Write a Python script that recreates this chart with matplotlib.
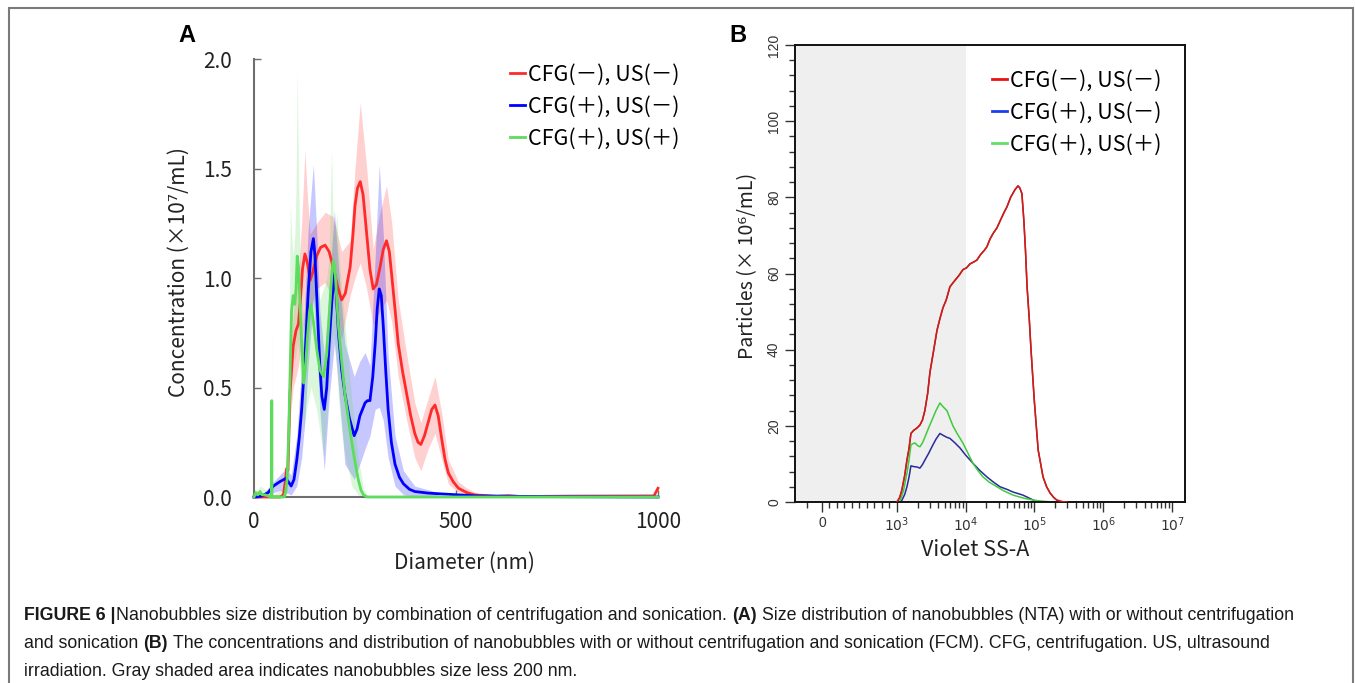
import matplotlib
matplotlib.use("Agg")
import matplotlib.pyplot as plt
from matplotlib.patches import Rectangle
from matplotlib.lines import Line2D
from matplotlib.ticker import FixedLocator, NullFormatter

W, H = 1355, 683
CJK = ['Noto Sans CJK JP', 'DejaVu Sans']

labels = ['CFG(－), US(－)', 'CFG(＋), US(－)', 'CFG(＋), US(＋)']

# ---- panel A: NTA size distribution (x10^7 / mL) ----
red_x = [0, 65, 73, 78, 81, 84, 89, 97, 104, 110, 115, 120, 126, 132, 139, 146, 155, 165, 176, 186,
         196, 207, 217, 226, 238, 245, 250, 256, 263, 270, 279, 287, 295, 303, 312, 320, 328, 335, 341, 350,
         357, 368, 378, 388, 398, 406, 413, 422, 431, 440, 448, 456, 465, 473, 481, 493, 506, 527, 545, 560,
         600, 630, 660, 780, 990, 1000]
red_y = [0, 0, 0.01, 0.08, 0.13, 0.12, 0.47, 0.69, 0.76, 0.79, 0.90, 1.04, 1.11, 1.07, 0.99, 1.03, 1.10, 1.14, 1.15, 1.12,
         1.05, 0.96, 0.90, 0.93, 1.05, 1.20, 1.33, 1.41, 1.44, 1.38, 1.20, 1.04, 0.95, 0.97, 1.05, 1.13, 1.17, 1.12, 1.01, 0.84,
         0.70, 0.57, 0.47, 0.37, 0.29, 0.25, 0.24, 0.28, 0.34, 0.40, 0.42, 0.37, 0.26, 0.17, 0.11, 0.07, 0.04, 0.02, 0.01, 0.008,
         0.003, 0.006, 0.002, 0.004, 0.005, 0.04]
red_bx = [73, 81, 89, 97, 104, 110, 118, 126, 133, 139, 155, 176, 196, 217, 238, 250, 263, 279, 295, 312,
          328, 341, 357, 378, 398, 413, 431, 448, 465, 481, 506, 527, 560, 600]
red_lo = [0, 0.10, 0.35, 0.50, 0.55, 0.60, 0.72, 0.80, 0.82, 0.85, 0.95, 0.98, 0.90, 0.72, 0.92, 1.00, 1.07, 0.95, 0.78, 0.85,
          0.90, 0.80, 0.55, 0.35, 0.18, 0.12, 0.22, 0.29, 0.17, 0.06, 0.02, 0.01, 0.003, 0]
red_hi = [0.02, 0.16, 0.60, 0.85, 0.95, 1.00, 1.25, 1.58, 1.35, 1.20, 1.25, 1.30, 1.28, 1.12, 1.17, 1.50, 1.80, 1.50, 1.13, 1.30,
          1.42, 1.25, 0.90, 0.65, 0.43, 0.34, 0.45, 0.55, 0.38, 0.17, 0.07, 0.04, 0.01, 0.005]

blue_x = [0, 5, 20, 35, 48, 64, 79, 85, 92, 99, 106, 112, 118, 126, 134, 141, 147, 151, 155, 163,
          168, 174, 180, 186, 193, 199, 204, 209, 217, 225, 236, 248, 255, 262, 275, 281, 287, 294, 300, 305,
          310, 315, 320, 326, 332, 340, 349, 360, 370, 385, 398, 430, 456, 550, 700, 1000]
blue_y = [0, 0, 0.005, 0.02, 0.05, 0.07, 0.085, 0.07, 0.05, 0.08, 0.17, 0.27, 0.40, 0.63, 0.93, 1.12, 1.18, 1.10, 0.93, 0.60,
          0.46, 0.40, 0.50, 0.70, 0.90, 1.02, 0.92, 0.75, 0.58, 0.47, 0.36, 0.28, 0.31, 0.37, 0.43, 0.44, 0.44, 0.55, 0.70, 0.86,
          0.95, 0.92, 0.78, 0.58, 0.40, 0.25, 0.15, 0.09, 0.06, 0.035, 0.025, 0.018, 0.015, 0.005, 0.002, 0]
blue_bx = [20, 48, 64, 79, 92, 106, 118, 126, 134, 147, 155, 163, 174, 186, 199, 209, 225, 248, 262, 275,
           287, 300, 310, 320, 332, 349, 370, 398, 456]
blue_lo = [0, 0.02, 0.03, 0.02, 0.01, 0.05, 0.18, 0.35, 0.60, 0.90, 0.70, 0.40, 0.12, 0.45, 0.70, 0.50, 0.15, 0.08, 0.15, 0.22,
           0.28, 0.40, 0.41, 0.35, 0.18, 0.05, 0.01, 0, 0]
blue_hi = [0.01, 0.07, 0.10, 0.13, 0.10, 0.28, 0.60, 0.90, 1.22, 1.52, 1.22, 0.85, 0.65, 0.95, 1.31, 1.05, 0.70, 0.55, 0.62, 0.66,
           0.60, 1.10, 1.52, 1.20, 0.65, 0.28, 0.12, 0.05, 0.02]

green_x = [0, 5, 10, 15, 20, 27, 35, 40, 43.5, 44, 44.5, 48, 60, 75, 78, 82, 86, 90, 93, 97,
           101, 104, 107, 110, 113, 118, 123, 127, 132, 137, 141, 147, 155, 163, 172, 180, 186, 192, 196, 200,
           205, 209, 217, 225, 234, 242, 250, 258, 265, 271, 280, 1000]
green_y = [0, 0.02, 0.01, 0.025, 0.01, 0.01, 0.005, 0, 0, 0.44, 0, 0, 0, 0, 0.02, 0.08, 0.30, 0.62, 0.85, 0.92,
           0.88, 0.95, 1.10, 1.05, 0.92, 0.70, 0.52, 0.58, 0.72, 0.84, 0.88, 0.80, 0.68, 0.58, 0.55, 0.65, 0.82, 1.00, 1.08, 1.05,
           0.90, 0.78, 0.62, 0.47, 0.35, 0.25, 0.16, 0.08, 0.03, 0.01, 0, 0]
green_bx = [0, 15, 40, 43.5, 44, 44.5, 48, 78, 82, 86, 90, 93, 97, 101, 104, 107, 110, 113, 118, 123,
            130, 141, 155, 163, 172, 180, 186, 192, 196, 200, 205, 209, 217, 225, 242, 258, 271, 280]
green_lo = [0, 0, 0, 0, 0.1, 0, 0, 0, 0.02, 0.10, 0.40, 0.55, 0.65, 0.62, 0.65, 0.70, 0.68, 0.60, 0.45, 0.30,
            0.40, 0.50, 0.40, 0.30, 0.18, 0.35, 0.55, 0.70, 0.75, 0.70, 0.60, 0.45, 0.30, 0.20, 0.05, 0.01, 0, 0]
green_hi = [0.01, 0.05, 0.02, 0.02, 0.88, 0.02, 0.01, 0.05, 0.20, 0.55, 1.35, 1.20, 1.10, 1.20, 1.40, 1.95, 1.50, 1.20, 0.90, 0.80,
            1.00, 1.15, 1.00, 0.90, 0.95, 1.00, 1.10, 1.59, 1.25, 1.20, 1.30, 1.15, 0.95, 0.80, 0.45, 0.18, 0.04, 0.01]

# ---- panel B: FCM (x10^6 / mL) vs Violet SS-A ----
fr_x = [1000, 1100, 1183, 1300, 1400, 1500, 1600, 1750, 1950, 2160, 2350, 2550, 2800, 3020, 3400, 3820, 4200, 4670, 5200, 5900,
        6500, 7200, 8000, 9100, 10300, 11500, 13000, 14500, 16500, 18500, 20300, 22500, 25000, 28500, 32000, 36000, 39800, 45000, 52000, 57500,
        61000, 65600, 70000, 74000, 78000, 84000, 89000, 99000, 113000, 133000, 150000, 168000, 190000, 211000, 250000, 296000]
fr_y = [0, 1.2, 3.2, 7, 11, 14, 18, 18.8, 19.4, 20.2, 21.5, 24, 28.5, 34, 39.5, 45, 48, 51, 53, 56.5,
        57.5, 58.5, 59.5, 61, 61.5, 62.5, 63, 63.5, 65, 66, 67, 69, 70.5, 72, 74, 76, 77.5, 80, 82, 83,
        82.5, 81, 74, 66, 56.5, 48, 40, 27, 13.7, 6.6, 4, 2.4, 1.2, 0.5, 0.1, 0]
fb_x = [1150, 1300, 1400, 1500, 1600, 1750, 1950, 2160, 2350, 2550, 2900, 3230, 3700, 4220, 4700, 5300, 5900, 7000, 8250, 10000,
        12700, 16000, 20300, 25000, 31500, 40000, 49000, 58000, 68000, 80000, 96000, 110000]
fb_y = [0, 2, 4, 6.5, 9.5, 9.3, 9.2, 8.9, 9.8, 11, 12.8, 14.5, 16.5, 18, 17.5, 17, 16.7, 15.5, 14.2, 12.3,
        10.2, 8.3, 6.6, 5.3, 4, 3.3, 2.6, 2.2, 1.8, 1.2, 0.5, 0]
fg_x = [1100, 1250, 1400, 1500, 1600, 1700, 1830, 2000, 2160, 2350, 2550, 2900, 3230, 3700, 4220, 4700, 5330, 5900, 6520, 7500,
        9100, 10800, 12700, 15000, 17800, 22000, 28500, 36000, 49000, 70000, 96000, 125000, 157000, 200000]
fg_y = [0, 3, 7.6, 11, 15, 15.3, 15.5, 14.8, 14.5, 15.5, 17, 19.5, 21.5, 24, 26, 25, 24, 22, 20, 18,
        15.5, 12.8, 10.2, 8.3, 6.6, 5.2, 4, 2.9, 1.8, 1.0, 0.5, 0.25, 0.1, 0]

b_ticks = [0, 1e3, 1e4, 1e5, 1e6, 1e7]
b_ticklabels = ['0', '$10^3$', '$10^4$', '$10^5$', '$10^6$', '$10^7$']

caption = [
    [("FIGURE 6 |", 'bold'), ("Nanobubbles size distribution by combination of centrifugation and sonication.", 'normal'),
     ("(A)", 'bold'), ("Size distribution of nanobubbles (NTA) with or without centrifugation", 'normal')],
    [("and sonication", 'normal'), ("(B)", 'bold'),
     ("The concentrations and distribution of nanobubbles with or without centrifugation and sonication (FCM). CFG, centrifugation. US, ultrasound", 'normal')],
    [("irradiation. Gray shaded area indicates nanobubbles size less 200 nm.", 'normal')],
]

line_cols = ['#ff2a2a', '#0000ff', '#5ddc5d']
fcm_cols = ['#c81e1e', '#2a2a9c', '#3ccc3c']

fig = plt.figure(figsize=(W / 100, H / 100), dpi=100)

# ---------------- panel A ----------------
axA = fig.add_axes([254 / W, 1 - 497 / H, 404 / W, 438 / H])
series = [(red_x, red_y, red_bx, red_lo, red_hi),
          (blue_x, blue_y, blue_bx, blue_lo, blue_hi),
          (green_x, green_y, green_bx, green_lo, green_hi)]
handles = []
for (x, y, bx, lo, hi), c in zip(series, line_cols):
    axA.fill_between(bx, lo, hi, color=c, alpha=0.22, lw=0)
for (x, y, bx, lo, hi), c, lab in zip(series, line_cols, labels):
    ln, = axA.plot(x, y, color=c, lw=2, label=lab, clip_on=False, zorder=3)
    handles.append(ln)
handles[2].set_zorder(4)

axA.set_xlim(0, 1000)
axA.set_ylim(0, 2.0)
axA.set_xticks([0, 500, 1000])
axA.set_yticks([0, 0.5, 1.0, 1.5, 2.0])
axA.set_yticklabels(['0.0', '0.5', '1.0', '1.5', '2.0'])
for s in ['top', 'right']:
    axA.spines[s].set_visible(False)
for s in ['left', 'bottom']:
    axA.spines[s].set_color('#6e6e6e')
    axA.spines[s].set_linewidth(1.5)
axA.tick_params(direction='in', length=5, width=1, color='#6e6e6e', labelsize=15, pad=10)
axA.tick_params(axis='y', pad=16)
for t in axA.get_xticklabels() + axA.get_yticklabels():
    t.set_family(CJK)
    t.set_color('#222222')
axA.set_ylabel('Concentration (×10⁷/mL)', fontsize=15, family=CJK, color='#222222')
axA.yaxis.set_label_coords(-0.158, 0.513)
axA.set_xlabel('Diameter (nm)', fontsize=15, family=CJK, color='#222222')
axA.xaxis.set_label_coords(0.522, -0.124)
axA.legend(handles=handles, loc='upper left', bbox_to_anchor=(510 / W, 1 - 64 / H),
           bbox_transform=fig.transFigure, frameon=False, borderpad=0, borderaxespad=0,
           handlelength=0.7, handletextpad=0.12, labelspacing=0.45,
           prop={'family': CJK, 'size': 15.5})

# ---------------- panel B ----------------
axB = fig.add_axes([795 / W, 1 - 502 / H, 390 / W, 457 / H])
axB.set_xscale('symlog', linthresh=1000, linscale=0.98)
axB.set_xlim(-360, 1.54e7)
axB.set_ylim(0, 120)
axB.axvspan(-360, 1e4, color='#efefef', lw=0, zorder=0)
fcm = [(fr_x, fr_y), (fb_x, fb_y), (fg_x, fg_y)]
for (x, y), c in zip(fcm, fcm_cols):
    axB.plot(x, y, color=c, lw=1.1, zorder=2)
axB.plot(fr_x, fr_y, color=fcm_cols[0], lw=1.1, zorder=3)

axB.xaxis.set_major_locator(FixedLocator(b_ticks))
axB.set_xticklabels(b_ticklabels)
minor = [-200] + list(range(100, 1000, 100)) + [k * 10 ** n for n in range(3, 7) for k in range(2, 10)]
axB.xaxis.set_minor_locator(FixedLocator(minor))
axB.xaxis.set_minor_formatter(NullFormatter())
axB.set_yticks(range(0, 121, 20))
axB.set_yticks(range(0, 121, 4), minor=True)
for s in axB.spines.values():
    s.set_color('#111111')
    s.set_linewidth(1.4)
axB.tick_params(which='major', direction='out', length=7, width=1, color='#333333',
                labelsize=10, labelcolor='#333333', pad=3)
axB.tick_params(which='minor', direction='out', length=4, width=1, color='#333333')
for t in axB.get_yticklabels():
    t.set_rotation(90)
    t.set_va('center')
    t.set_family('Liberation Sans')
for t in axB.get_xticklabels():
    t.set_family('Liberation Sans')
axB.set_ylabel('Particles (× 10⁶/mL)', fontsize=14, family=CJK, color='#222222')
axB.yaxis.set_label_coords((758 - 795) / 390, 0.516)
axB.set_xlabel('Violet SS-A', fontsize=15.5, family=CJK, color='#222222')
axB.xaxis.set_label_coords((975 - 795) / 390, -0.082)
hB = [Line2D([], [], color=c, lw=2) for c in ['#ee1111', '#1a3ff0', '#66dd66']]
axB.legend(handles=hB, labels=labels, loc='upper left', bbox_to_anchor=(992 / W, 1 - 70 / H),
           bbox_transform=fig.transFigure, frameon=False, borderpad=0, borderaxespad=0,
           handlelength=0.7, handletextpad=0.12, labelspacing=0.45,
           prop={'family': CJK, 'size': 15.5})

# panel letters
fig.text(187 / W, 1 - 35 / H, 'A', fontsize=17, fontweight='bold', family='Liberation Sans', ha='center', va='center')
fig.text(738 / W, 1 - 35 / H, 'B', fontsize=17, fontweight='bold', family='Liberation Sans', ha='center', va='center')

# outer frame
fig.add_artist(Rectangle((9 / W, -0.05), (1353 - 9) / W, 1.05 - 8 / H, transform=fig.transFigure,
                         fill=False, edgecolor='#7a7a7a', lw=1.5))

# caption with bold pieces
fig.canvas.draw()
r = fig.canvas.get_renderer()
csize = 12.8
space = csize * 0.278 / 72 * 100
for row, pieces in enumerate(caption):
    xpix = 24
    ypix = 616 + row * 27.5
    for k, (s, w) in enumerate(pieces):
        t = fig.text(xpix / W, 1 - ypix / H, s, fontsize=csize, fontweight=w, family='Liberation Sans',
                     va='center', ha='left', color='#1a1a1a')
        xpix += t.get_window_extent(renderer=r).width
        xpix += 1 if (k == 0 and row == 0) else space

fig.savefig('out.png', dpi=100)
